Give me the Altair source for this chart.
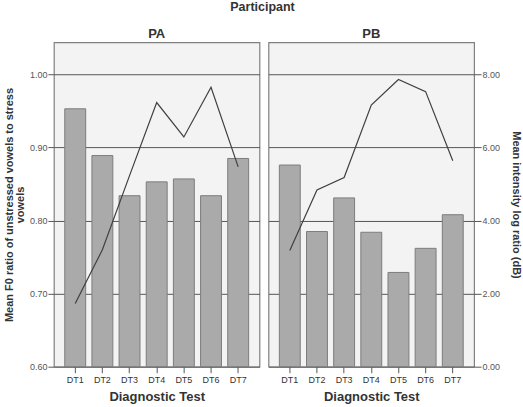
import altair as alt
import pandas as pd

tests = ["DT1", "DT2", "DT3", "DT4", "DT5", "DT6", "DT7"]

# Mean F0 ratio (bars, left axis) and mean intensity log ratio in dB (line, right axis)
pa_f0 = [0.953, 0.889, 0.834, 0.853, 0.857, 0.834, 0.885]
pa_db = [1.73, 3.20, 5.23, 7.23, 6.29, 7.65, 5.47]
pb_f0 = [0.876, 0.785, 0.831, 0.784, 0.729, 0.762, 0.808]
pb_db = [3.18, 4.84, 5.18, 7.16, 7.86, 7.53, 5.64]

f0_ticks = [0.6, 0.7, 0.8, 0.9, 1.0]
db_ticks = [0, 2, 4, 6, 8]

FONT = "Liberation Sans"
TEXT = "#333333"
W, H = 206, 325

f0_scale = alt.Scale(domain=[0.6, 1.044], nice=False, zero=False)
db_scale = alt.Scale(domain=[0, 8.88], nice=False, zero=False)


def panel(name, f0, db, first):
    df = pd.DataFrame({"test": tests, "f0": f0, "db": db})
    x = alt.X(
        "test:N",
        sort=tests,
        title="Diagnostic Test",
        scale=alt.Scale(paddingInner=0.23, paddingOuter=0.4),
        axis=alt.Axis(labelAngle=0, domain=False, tickSize=6, tickColor="#555555",
                      labelFontSize=9, labelColor=TEXT, labelPadding=3,
                      titleFontSize=13, titleFontWeight="bold", titleColor=TEXT,
                      titlePadding=6),
    )
    if first:
        f0_axis = alt.Axis(
            title=["Mean F0 ratio of unstressed vowels to stress", "vowels"],
            values=f0_ticks, format=".2f", grid=True, gridColor="#555555",
            domain=False, tickSize=6, tickColor="#555555",
            labelFontSize=9, labelColor="#555555", labelPadding=1,
            titleFontSize=11, titleFontWeight="bold", titleColor=TEXT,
            titlePadding=4, titleLineHeight=11,
        )
        db_axis = None
    else:
        f0_axis = None
        db_axis = alt.Axis(
            title="Mean intensity log ratio (dB)", orient="right",
            values=db_ticks, format=".2f", grid=True, gridColor="#555555",
            domain=False, tickSize=7, tickColor="#555555",
            labelFontSize=9, labelColor="#555555", labelPadding=1,
            titleFontSize=11, titleFontWeight="bold", titleColor=TEXT,
            titlePadding=11,
        )

    bars = alt.Chart(df).mark_bar(
        color="#aaaaaa", stroke="#7c7c7c", strokeWidth=1
    ).encode(
        x=x,
        y=alt.Y("f0:Q", scale=f0_scale, axis=f0_axis),
        y2=alt.datum(0.6),
    )
    line = alt.Chart(df).mark_line(color="#404040", strokeWidth=1.2).encode(
        x=alt.X("test:N", sort=tests),
        y=alt.Y("db:Q", scale=db_scale, axis=db_axis),
    )
    return (
        alt.layer(bars, line)
        .resolve_scale(y="independent")
        .properties(width=W, height=H, title=name)
    )


chart = (
    alt.hconcat(panel("PA", pa_f0, pa_db, True), panel("PB", pb_f0, pb_db, False), spacing=7)
    .properties(
        title=alt.TitleParams("Participant", fontSize=12.5, fontWeight="bold",
                              color=TEXT, anchor="middle", offset=14),
        padding={"left": 2, "right": 0, "top": 0, "bottom": 0},
    )
    .configure(font=FONT)
    .configure_view(fill="#f3f3f3", stroke="#808080", strokeWidth=1.2)
    .configure_title(fontSize=13, fontWeight="bold", color=TEXT, offset=1)
)

chart.save("out.html", embed_options={"renderer": "svg", "actions": False})
